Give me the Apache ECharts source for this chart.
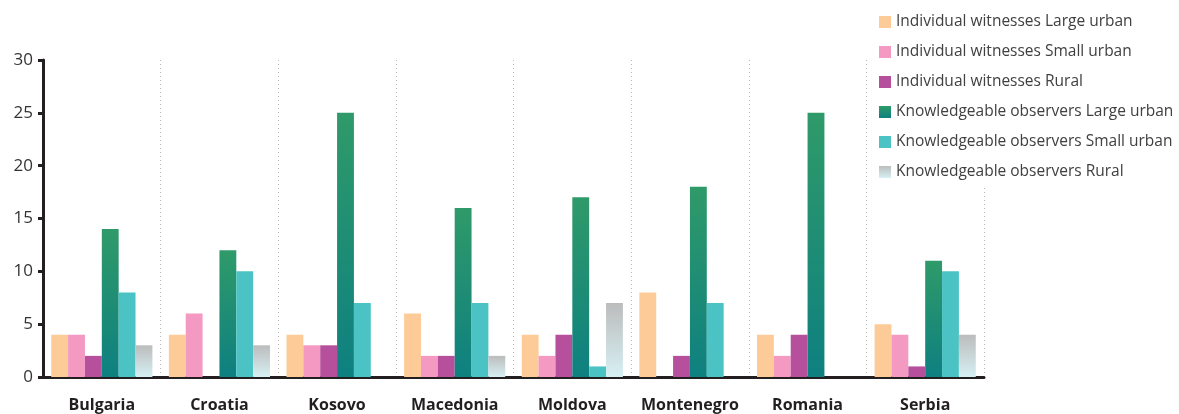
<!DOCTYPE html>
<html>
<head>
<meta charset="utf-8">
<script src="https://cdn.jsdelivr.net/npm/echarts@6/dist/echarts.min.js"></script>
<style>
  html, body { margin: 0; padding: 0; background: #fff; }
  #chart { width: 1179px; height: 414px; }
</style>
</head>
<body>
<div id="chart"></div>
<script>
// Countries on the x axis
const countries = ['Bulgaria', 'Croatia', 'Kosovo', 'Macedonia', 'Moldova', 'Montenegro', 'Romania', 'Serbia'];

// Series values, one per country
const iwLargeUrban = [4, 4, 4, 6, 4, 8, 4, 5];
const iwSmallUrban = [4, 6, 3, 2, 2, 0, 2, 4];
const iwRural      = [2, 0, 3, 2, 4, 2, 4, 1];
const koLargeUrban = [14, 12, 25, 16, 17, 18, 25, 11];
const koSmallUrban = [8, 10, 7, 7, 1, 7, 0, 10];
const koRural      = [3, 3, 0, 2, 7, 0, 0, 4];

const seriesNames = [
  'Individual witnesses Large urban',
  'Individual witnesses Small urban',
  'Individual witnesses Rural',
  'Knowledgeable observers Large urban',
  'Knowledgeable observers Small urban',
  'Knowledgeable observers Rural'
];

const yTicks = [0, 5, 10, 15, 20, 25, 30];

const vGrad = (top, bottom) => new echarts.graphic.LinearGradient(0, 0, 0, 1, [
  { offset: 0, color: top }, { offset: 1, color: bottom }
]);

const colors = [
  '#fdcb97',
  '#f399c2',
  '#b6509c',
  vGrad('#2f9a69', '#0e8080'),
  '#4bc3c4',
  vGrad('#bcbcbc', '#d6f0f4')
];

const values = [iwLargeUrban, iwSmallUrban, iwRural, koLargeUrban, koSmallUrban, koRural];

const chart = echarts.init(document.getElementById('chart'));
chart.setOption({
  animation: false,
  textStyle: { fontFamily: 'Open Sans' },
  legend: {
    orient: 'vertical',
    left: 872,
    top: 9,
    padding: [5, 20, 8, 7],
    backgroundColor: '#fff',
    itemWidth: 12,
    itemHeight: 12,
    itemGap: 14,
    icon: 'rect',
    textStyle: { fontSize: 15.5, color: '#404040', fontFamily: 'Open Sans' },
    data: seriesNames
  },
  grid: { left: 43, right: 195, top: 60, bottom: 37, containLabel: false },
  xAxis: {
    type: 'category',
    data: countries,
    axisLine: { lineStyle: { color: '#231f20', width: 3 } },
    axisTick: { interval: 0, length: 7, lineStyle: { color: '#231f20', width: 3 } },
    axisLabel: { interval: 0, fontSize: 16, fontWeight: 'bold', color: '#231f20', margin: 20 },
    splitLine: { show: true, interval: 0, lineStyle: { color: '#b8b8b8', type: [1, 3], width: 1 } }
  },
  yAxis: {
    type: 'value',
    min: 0,
    max: 30,
    interval: 5,
    axisLine: { show: true, lineStyle: { color: '#231f20', width: 3 } },
    axisTick: { show: true, length: 5, lineStyle: { color: '#231f20', width: 3 } },
    axisLabel: { fontSize: 17, color: '#333', margin: 10,
      formatter: v => yTicks.includes(v) ? String(v) : '' },
    splitLine: { show: false }
  },
  series: seriesNames.map((name, i) => ({
    name,
    type: 'bar',
    data: values[i],
    barGap: '0%',
    barCategoryGap: '14%',
    itemStyle: { color: colors[i] },
    z: 1
  }))
});
</script>
</body>
</html>
